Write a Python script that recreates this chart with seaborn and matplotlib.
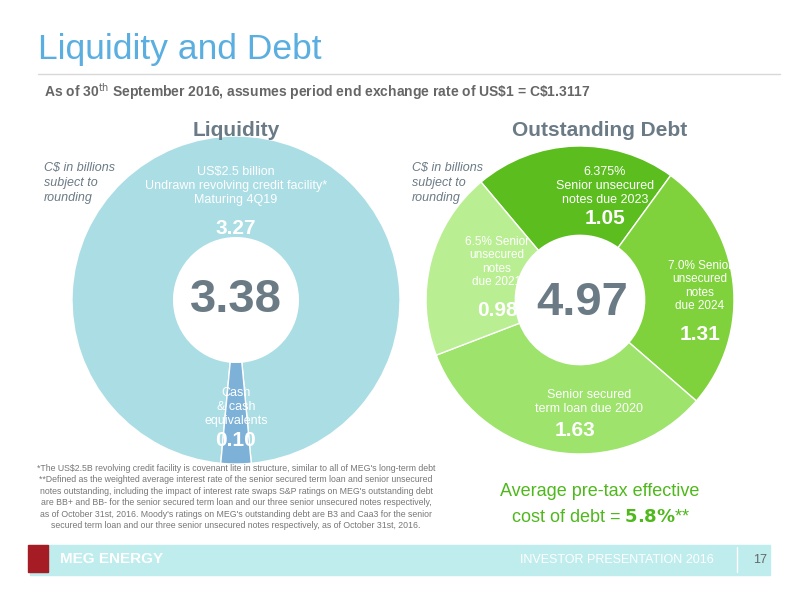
import matplotlib
matplotlib.use("Agg")
import matplotlib.pyplot as plt
import seaborn as sns

sns.set_theme(style="white")
plt.rcParams['font.family'] = ['Liberation Sans', 'DejaVu Sans']

# data
liq_labels = ['Undrawn revolving credit facility', 'Cash & cash equivalents']
liq_values = [3.27, 0.10]
liq_colors = ['#abdde5', '#7eb1d8']

debt_labels = ['6.375% notes due 2023', '7.0% notes due 2024',
               'Term loan due 2020', '6.5% notes due 2021']
debt_values = [1.05, 1.31, 1.63, 0.98]
debt_colors = ['#5cbd1f', '#80d23c', '#9de36c', '#baee93']

W, H = 800, 598
fig = plt.figure(figsize=(8, 5.98), dpi=100)
fig.patch.set_facecolor('white')


def T(x, y, s, **kw):
    kw.setdefault('ha', 'center')
    kw.setdefault('va', 'center')
    return fig.text(x / W, 1 - y / H, s, **kw)


def donut(cx, cy, r, hole, values, colors, start):
    ax = fig.add_axes([(cx - r) / W, (H - cy - r) / H, 2 * r / W, 2 * r / H])
    ax.pie(values, colors=colors, startangle=start, counterclock=False,
           wedgeprops=dict(width=1 - hole, edgecolor='white', linewidth=1))
    ax.set_aspect('equal')
    ax.set_xlim(-1, 1)
    ax.set_ylim(-1, 1)
    ax.axis('off')
    return ax


cash_half = 360 * liq_values[1] / 2 / sum(liq_values)
donut(236, 300, 164, 0.38, liq_values, liq_colors, 270 - cash_half)
donut(580, 300, 154, 0.42, debt_values, debt_colors, 130)

# header
T(38, 50, 'Liquidity and Debt', ha='left', fontsize=25.5, color='#5aaee0')
fig.add_artist(plt.Line2D([38 / W, 780 / W], [1 - 74 / H] * 2, color='#d8d8d8', lw=1))
T(44, 92, r'As of 30$^{\rm th}$ September 2016, assumes period end exchange rate of US\$1 = C\$1.3117',
  ha='left', fontsize=10, color='#666666', fontweight='bold')

T(236, 130, 'Liquidity', fontsize=15, color='#6b7b86', fontweight='bold')
T(600, 130, 'Outstanding Debt', fontsize=15, color='#6b7b86', fontweight='bold')
for x in (44, 412):
    T(x, 183, 'C$ in billions\nsubject to\nrounding', ha='left', fontsize=9,
      style='italic', color='#6b7b86', linespacing=1.3)

# liquidity labels
T(236, 186, 'US$2.5 billion\nUndrawn revolving credit facility*\nMaturing 4Q19',
  fontsize=9, color='white', linespacing=1.2)
T(236, 228, '3.27', fontsize=15, color='white', fontweight='bold')
T(236, 300, '3.38', fontsize=34, color='#6b7b86', fontweight='bold')
T(236, 407, 'Cash\n& cash\nequivalents', fontsize=9, color='white', linespacing=1.2)
T(236, 440, '0.10', fontsize=15, color='white', fontweight='bold')

# debt labels
T(605, 186, '6.375%\nSenior unsecured\nnotes due 2023', fontsize=9, color='white', linespacing=1.2)
T(605, 218, '1.05', fontsize=15, color='white', fontweight='bold')
T(700, 286, '7.0% Senior\nunsecured\nnotes\ndue 2024', fontsize=8.5, color='white', linespacing=1.15)
T(700, 334, '1.31', fontsize=15, color='white', fontweight='bold')
T(589, 402, 'Senior secured\nterm loan due 2020', fontsize=9, color='white', linespacing=1.2)
T(575, 430, '1.63', fontsize=15, color='white', fontweight='bold')
T(497, 262, '6.5% Senior\nunsecured\nnotes\ndue 2021', fontsize=8.5, color='white', linespacing=1.15)
T(497, 310, '0.98', fontsize=15, color='white', fontweight='bold')
T(582, 303, '4.97', fontsize=34, color='#6b7b86', fontweight='bold')

# footnotes
T(236, 497, "*The US$2.5B revolving credit facility is covenant lite in structure, similar to all of MEG's long-term debt\n"
  "**Defined as the weighted average interest rate of the senior secured term loan and senior unsecured\n"
  "notes outstanding, including the impact of interest rate swaps S&P ratings on MEG's outstanding debt\n"
  "are BB+ and BB- for the senior secured term loan and our three senior unsecured notes respectively,\n"
  "as of October 31st, 2016. Moody's ratings on MEG's outstanding debt are B3 and Caa3 for the senior\n"
  "secured term loan and our three senior unsecured notes respectively, as of October 31st, 2016.",
  fontsize=6.3, color='#777777', linespacing=1.35)

T(600, 491, 'Average pre-tax effective', fontsize=13, color='#4fb81c')
T(600, 518, r'cost of debt = $\bf{5.8\%}$**', fontsize=13, color='#4fb81c')

# footer
fig.patches.append(plt.Rectangle((30 / W, 1 - 575 / H), 740 / W, 30 / H,
                                 transform=fig.transFigure, color='#bfeced', zorder=0))
fig.patches.append(plt.Rectangle((28 / W, 1 - 572 / H), 20 / W, 27 / H,
                                 transform=fig.transFigure, color='#a51c24', zorder=1))
T(60, 559, 'MEG ENERGY', ha='left', fontsize=11, color='white', fontweight='bold')
T(714, 560, 'INVESTOR PRESENTATION 2016', ha='right', fontsize=9, color='white')
fig.add_artist(plt.Line2D([737 / W] * 2, [1 - 572 / H, 1 - 547 / H], color='white', lw=1))
T(760, 560, '17', fontsize=9, color='#666666')

fig.savefig('out.png', dpi=100)
